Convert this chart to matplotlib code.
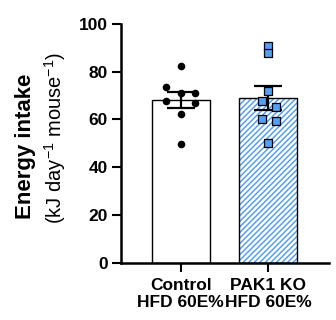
import numpy as np
import matplotlib
matplotlib.use("Agg")
import matplotlib.pyplot as plt

plt.rcParams['font.family'] = ['Liberation Sans', 'DejaVu Sans']
plt.rcParams['mathtext.fontset'] = 'custom'
plt.rcParams['mathtext.rm'] = 'Liberation Sans'
plt.rcParams['mathtext.it'] = 'Liberation Sans:italic'
plt.rcParams['mathtext.bf'] = 'Liberation Sans:bold'
plt.rcParams['hatch.linewidth'] = 1.1

# Energy intake per mouse (kJ/day)
groups = ["Control\nHFD 60E%", "PAK1 KO\nHFD 60E%"]
control = [82.5, 73.7, 70.9, 70.9, 67.8, 66.7, 62.2, 49.9]
pak1_ko = [90.9, 87.7, 72.0, 67.8, 65.3, 60.0, 59.4, 50.1]
# horizontal scatter offsets for overlapping points
control_jitter = [0, -0.168, 0, 0.163, -0.168, 0.163, 0, 0]
pak1_jitter = [0, 0, 0, -0.076, 0.088, -0.076, 0.088, 0]
yticks = [0, 20, 40, 60, 80, 100]

blue = '#55a0f2'

fig = plt.figure(figsize=(3.36, 3.2), dpi=100)
ax = fig.add_axes([0.361, 0.179, 0.617, 0.746])

xs = np.arange(len(groups))
data = [np.array(control), np.array(pak1_ko)]
means = [d.mean() for d in data]
sems = [d.std(ddof=1) / np.sqrt(len(d)) for d in data]
width = 0.66

# bars
ax.bar(xs[0], means[0], width, color='white', edgecolor='black', linewidth=1.0, zorder=2)
ax.bar(xs[1], means[1], width, color='white', edgecolor=blue, hatch='//////', linewidth=0, zorder=2)
ax.bar(xs[1], means[1], width, color='none', edgecolor='black', linewidth=1.0, zorder=3)

# error bars
for x, m, s in zip(xs, means, sems):
    ax.errorbar(x, m, yerr=s, color='black', elinewidth=1.6, capsize=10.4, capthick=1.6, zorder=4)

# individual points
ax.scatter(xs[0] + np.array(control_jitter), control, s=30, marker='o', color='black', zorder=5, linewidths=0)
ax.scatter(xs[1] + np.array(pak1_jitter), pak1_ko, s=30, marker='s', color=blue, edgecolor='black', linewidths=0.9, zorder=5)

ax.set_ylim(0, 100)
ax.set_xlim(-0.678, 1.69)
ax.set_yticks(yticks)
ax.set_xticks(xs)
ax.set_xticklabels(groups, fontweight='bold', fontsize=12.5, linespacing=1.2)
ax.tick_params(axis='y', labelsize=12.5, width=1.5, length=6.5, pad=3)
ax.tick_params(axis='x', width=1.5, length=6.5, pad=4.5)
for lab in ax.get_yticklabels():
    lab.set_fontweight('bold')

for sp in ['top', 'right']:
    ax.spines[sp].set_visible(False)
for sp in ['left', 'bottom']:
    ax.spines[sp].set_linewidth(1.8)

fig.text(0.077, 0.544, 'Energy intake', rotation=90, fontsize=16, fontweight='bold',
         ha='center', va='center')
fig.text(0.164, 0.567, '(kJ day$^{-1}$ mouse$^{-1}$)', rotation=90, fontsize=14.5,
         ha='center', va='center')

fig.savefig('out.png', dpi=100)
